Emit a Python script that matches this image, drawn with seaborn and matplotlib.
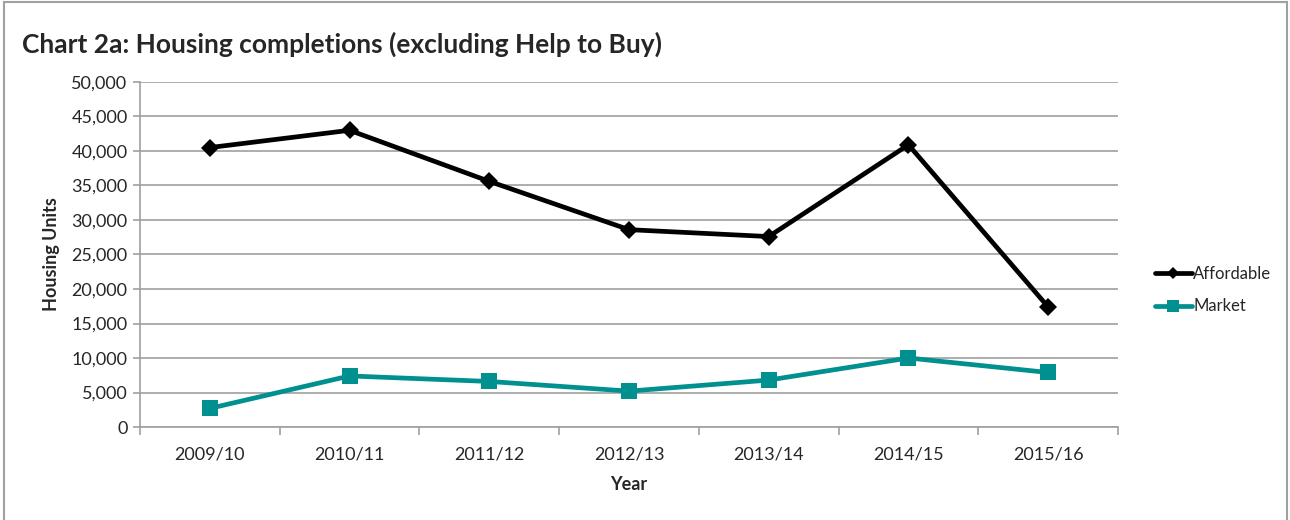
import matplotlib
matplotlib.use("Agg")
import matplotlib.pyplot as plt
import pandas as pd
import seaborn as sns
from matplotlib.lines import Line2D
from matplotlib.ticker import FuncFormatter, FixedLocator

years = ["2009/10", "2010/11", "2011/12", "2012/13", "2013/14", "2014/15", "2015/16"]
affordable = [40500, 43000, 35600, 28600, 27600, 40900, 17400]
market = [2700, 7400, 6600, 5200, 6800, 10000, 7900]

df = pd.DataFrame({
    "Housing Units": affordable + market,
    "Series": ["Affordable"] * len(years) + ["Market"] * len(years),
})
df["x"] = list(range(len(years))) * 2

sns.set_style("white")
plt.rcParams["font.family"] = ["Lato", "DejaVu Sans"]

fig = plt.figure(figsize=(12.9, 5.2), dpi=100)
ax = fig.add_axes([140 / 1290, 93 / 520, 978 / 1290, 345 / 520])

# outer chart frame (bottom edge falls outside the picture)
fig.patches.append(plt.Rectangle((4 / 1290, -0.05), 1283 / 1290, 1.05 - 2 / 520,
                                 transform=fig.transFigure, fill=False,
                                 edgecolor="#a0a0a0", linewidth=1.5))

sns.lineplot(data=df, x="x", y="Housing Units", hue="Series", style="Series",
             palette={"Affordable": "#000000", "Market": "#009090"},
             markers={"Affordable": "D", "Market": "s"},
             dashes=False, linewidth=3.4, markeredgewidth=0,
             ax=ax, legend=False, zorder=3)
# affordable diamonds are slimmer than market squares
for line, ms in zip(ax.lines, [9, 12]):
    line.set_markersize(ms)

ax.set_ylim(0, 50000)
ax.set_xlim(-0.5, len(years) - 0.5)
ax.yaxis.set_major_locator(FixedLocator(range(0, 50001, 5000)))
ax.yaxis.set_major_formatter(FuncFormatter(lambda v, p: f"{int(v):,}"))
ax.set_xticks(range(len(years)))
ax.set_xticklabels(years)
ax.xaxis.set_minor_locator(FixedLocator([i - 0.5 for i in range(len(years) + 1)]))
ax.tick_params(axis="x", which="major", bottom=True, length=0, pad=14, labelsize=13)
ax.tick_params(axis="x", which="minor", bottom=True, length=6, direction="out",
               color="#a0a0a0", width=1.2)
ax.tick_params(axis="y", left=True, length=5, direction="out", color="#a0a0a0",
               width=1.2, labelsize=13, pad=4)
ax.grid(axis="y", color="#a0a0a0", linewidth=1.2, zorder=0)
ax.set_axisbelow(True)

for s in ["top", "right"]:
    ax.spines[s].set_visible(False)
for s in ["left", "bottom"]:
    ax.spines[s].set_color("#a0a0a0")
    ax.spines[s].set_linewidth(1.2)

ax.set_xlabel("Year", fontsize=13, fontweight="bold", labelpad=10)
ax.set_ylabel("Housing Units", fontsize=13, fontweight="bold", labelpad=8)

fig.text(22 / 1290, 1 - 44 / 520, "Chart 2a: Housing completions (excluding Help to Buy)",
         fontsize=19, fontweight="bold", va="center", ha="left")

handles = [
    Line2D([], [], color="#000000", marker="D", markersize=6, linewidth=3.4, markeredgewidth=0),
    Line2D([], [], color="#009090", marker="s", markersize=9, linewidth=3.4, markeredgewidth=0),
]
fig.legend(handles, ["Affordable", "Market"], loc="center left",
           bbox_to_anchor=(1140 / 1290, 1 - 290 / 520), frameon=False,
           fontsize=12, handlelength=2.2, handletextpad=0.1, labelspacing=1.0)

fig.savefig("out.png", dpi=100)
